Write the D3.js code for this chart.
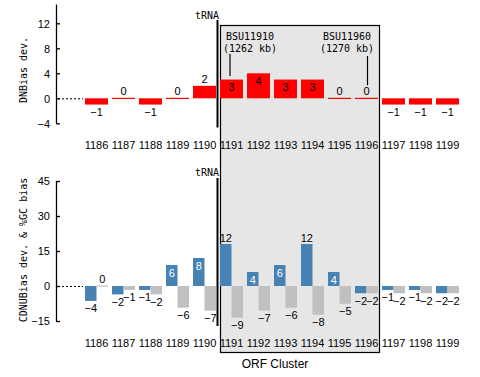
<!DOCTYPE html>
<html><head><meta charset="utf-8">
<script src="https://cdn.jsdelivr.net/npm/d3@7"></script>
<style>
body{margin:0;background:#fff;}
svg{display:block;}
</style></head>
<body>
<svg id="chart" width="480" height="377"></svg>
<script>
const categories = ["1186","1187","1188","1189","1190","1191","1192","1193","1194","1195","1196","1197","1198","1199"];
// DNBias deviation (top panel)
const dnbias = [-1,0,-1,0,2,3,4,3,3,0,0,-1,-1,-1];
// CDNUBias deviation (bottom panel, blue): plotted heights and printed labels
const cdnuBars = [-6.4,-3.6,-1.7,9,12,18,6,9,18,6,-3.1,-1.7,-1.7,-3.1];
const cdnuLabels = [-4,-2,-1,6,8,12,4,6,12,4,-2,-1,-1,-2];
// %GC bias (bottom panel, gray): plotted heights and printed labels
const gcBars = [0,-1.7,-3.6,-9.3,-10.6,-13.6,-10.6,-9.3,-12.3,-7.6,-3.1,-3.1,-3.1,-3.1];
const gcLabels = [0,-1,-2,-6,-7,-9,-7,-6,-8,-5,-2,-2,-2,-2];
const topTicks = [-4,0,4,8,12];
const bottomTicks = [-15,0,15,30,45];
const clusterStart = "1191", clusterEnd = "1196", trnaAfter = "1190";
const annotations = [{cat:"1191", name:"BSU11910", pos:"(1262 kb)"},{cat:"1196", name:"BSU11960", pos:"(1270 kb)"}];

const svg = d3.select("#chart");
const MONO = "'DejaVu Sans Mono', monospace";
const SANS = "'Liberation Sans', Arial, sans-serif";
const fmt = v => (v < 0 ? "\u2212" + Math.abs(v) : String(v));

const x = d3.scaleBand().domain(categories).range([85, 459]).paddingInner(4/27).paddingOuter(0);
const yTop = d3.scaleLinear().domain([-4, 15]).range([123.3, 4.55]);
const yBot = d3.scaleLinear().domain([-15, 45]).range([321, 181]);
const half = d3.scaleBand().domain(["a","b"]).range([0, x.bandwidth()]);

// cluster box
const bx0 = x(clusterStart) + 0.5, bx1 = x(clusterEnd) + x.bandwidth() + 1.5;
svg.append("rect").attr("x", bx0).attr("y", 25.5).attr("width", bx1 - bx0).attr("height", 327)
  .attr("fill", "#e6e6e6").attr("stroke", "#000").attr("stroke-width", 1.2);

function axis(y, ticks, axX) {
  const g = svg.append("g").attr("transform", `translate(${axX},0)`);
  const ax = d3.axisRight(y).tickValues(ticks).tickSize(4).tickFormat("");
  g.call(ax);
  g.select(".domain").attr("d", `M0.5,${y.range()[1]}V${y.range()[0]}`).attr("stroke","#000").attr("stroke-width",1.3);
  g.selectAll(".tick line").attr("stroke","#000").attr("stroke-width",1.3);
  g.selectAll(".tick").append("text").attr("x", -6).attr("dy", "0.35em").attr("text-anchor","end")
    .attr("fill","#000").attr("font-family", SANS).attr("font-size", 11).text(d => fmt(d));
  svg.append("line").attr("x1", axX + 2).attr("x2", axX + 27).attr("y1", y(0)+0.5).attr("y2", y(0)+0.5)
    .attr("stroke","#000").attr("stroke-dasharray","2,2");
}
axis(yTop, topTicks, 56);
axis(yBot, bottomTicks, 56);

// y titles
svg.append("text").attr("transform", `translate(27,${70}) rotate(-90)`).attr("text-anchor","middle")
  .attr("font-family", MONO).attr("font-size", 10).text("DNBias dev.");
svg.append("text").attr("transform", `translate(27,${250}) rotate(-90)`).attr("text-anchor","middle")
  .attr("font-family", MONO).attr("font-size", 10).text("CDNUBias dev. & %GC bias");

// x tick labels
[149, 347].forEach(yy => {
  svg.append("g").selectAll("text").data(categories).join("text")
    .attr("x", d => x(d) + x.bandwidth()/2).attr("y", yy).attr("text-anchor","middle")
    .attr("font-family", SANS).attr("font-size", 11).text(d => d);
});
svg.append("text").attr("x", 275).attr("y", 368).attr("text-anchor","middle")
  .attr("font-family", SANS).attr("font-size", 12).text("ORF Cluster");

// bars helper
function bars(vals, labels, y, xOff, w, color, inColor) {
  const g = svg.append("g");
  vals.forEach((v, i) => {
    const c = categories[i];
    const x0 = x(c) + xOff(i);
    let top = y(Math.max(0, v)), bot = y(Math.min(0, v));
    let h = bot - top;
    if (h < 1) { top = y(0) - 0.5; h = 1.2; }
    g.append("rect").attr("x", x0).attr("y", top).attr("width", w).attr("height", h).attr("fill", color);
    const lab = labels[i];
    const txt = fmt(lab);
    const tw = txt.length * 6.1;
    let ly, fill = "#000";
    if (v < 0) ly = bot + 11.5;
    else if (h >= 13 && tw <= w + 0.5) { ly = top + 11.8; fill = inColor; }
    else ly = top - 2.5;
    g.append("text").attr("x", x0 + w/2).attr("y", ly).attr("text-anchor","middle")
      .attr("font-family", SANS).attr("font-size", 11).attr("fill", fill).text(txt);
  });
}
bars(dnbias, dnbias, yTop, () => 0, x.bandwidth(), "#ff0000", "#000");
bars(cdnuBars, cdnuLabels, yBot, () => half("a"), half.bandwidth(), "#4682b4", "#fff");
bars(gcBars, gcLabels, yBot, () => half("b"), half.bandwidth(), "#c0c0c0", "#fff");

// tRNA markers
const tx = x(trnaAfter) + x.bandwidth() + 1.5;
[[20, 127.5, 19], [178, 326, 176]].forEach(([a, b, ty]) => {
  svg.append("line").attr("x1", tx).attr("x2", tx).attr("y1", a).attr("y2", b).attr("stroke","#000").attr("stroke-width", 2);
  svg.append("text").attr("x", tx + 1.5).attr("y", ty).attr("text-anchor","end")
    .attr("font-family", MONO).attr("font-size", 10).text("tRNA");
});

// gene annotations
annotations.forEach((a, k) => {
  const lx = k === 0 ? x(a.cat) + 10 : x(a.cat) + 12.5;
  const cx = k === 0 ? x(a.cat) + 30 : x(a.cat) - 8;
  svg.append("text").attr("x", cx).attr("y", 40).attr("text-anchor","middle")
    .attr("font-family", MONO).attr("font-size", 10).text(a.name);
  svg.append("text").attr("x", cx).attr("y", 52).attr("text-anchor","middle")
    .attr("font-family", MONO).attr("font-size", 10).text(a.pos);
  const v = dnbias[categories.indexOf(a.cat)];
  const endY = v >= 3 ? yTop(v) - 3.5 : yTop(v) - 13;
  svg.append("line").attr("x1", lx).attr("x2", lx).attr("y1", k === 0 ? 54 : 56).attr("y2", endY)
    .attr("stroke","#000").attr("stroke-width", 1.2);
});
</script>
</body></html>
